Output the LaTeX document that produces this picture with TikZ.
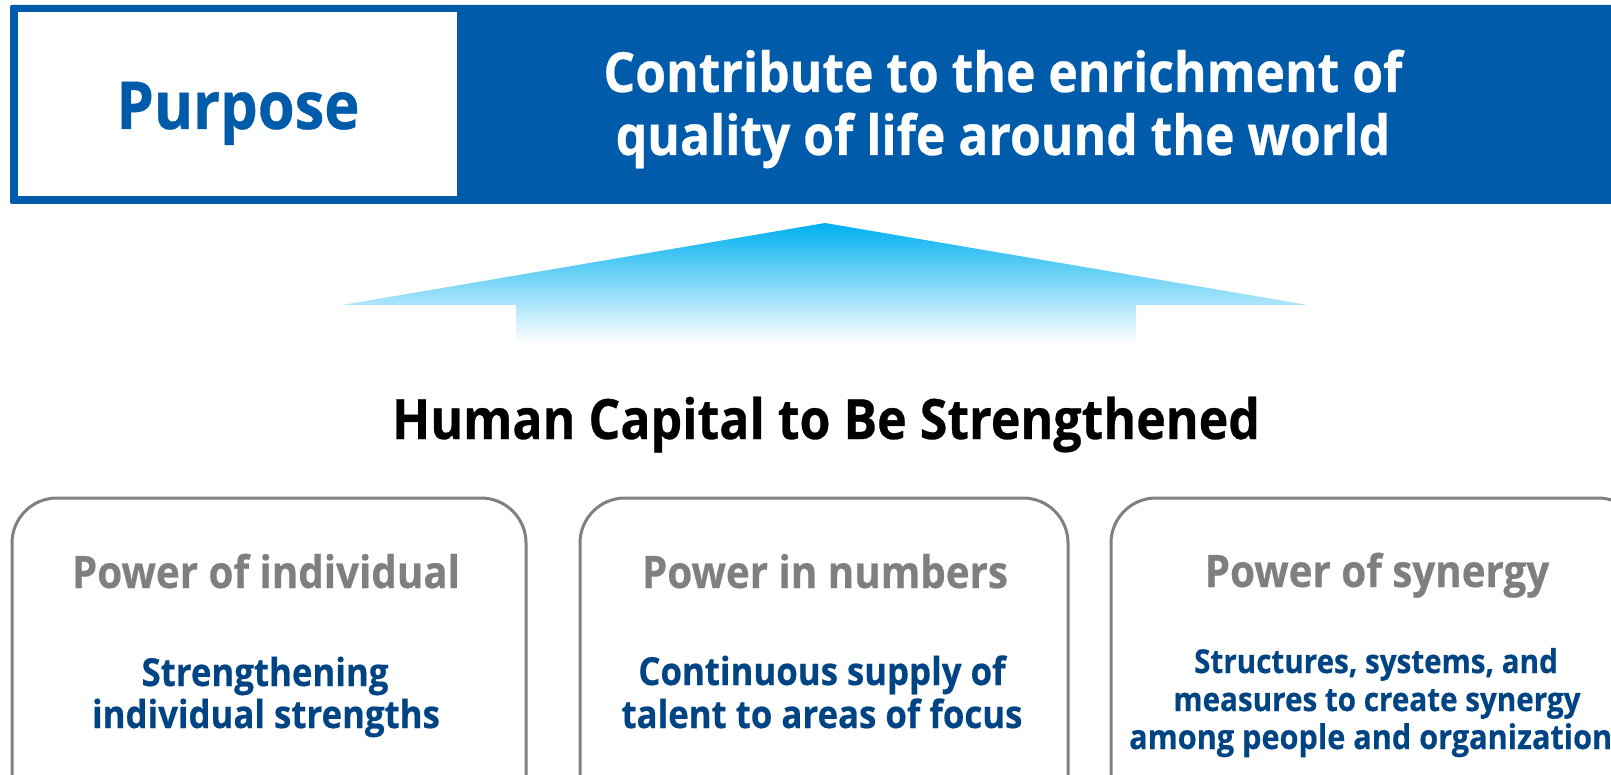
\documentclass[tikz,border=0pt]{standalone}
\usepackage{fontspec}
\setmainfont{Open Sans}[FakeStretch=0.9, FakeBold=0.5]
\usepackage{tikz}

\definecolor{bandblue}{RGB}{0,91,170}
\definecolor{arrowcyan}{RGB}{0,176,240}
\definecolor{headgray}{RGB}{127,127,127}
\definecolor{framegray}{RGB}{128,128,128}
\definecolor{navy}{RGB}{0,68,132}

% font size (pt) that gives a sample text a wanted width
\newdimen\probe
\newcommand\fitsize[3]{%
  \setbox0=\hbox{\normalfont\bfseries\fontsize{10pt}{12pt}\selectfont #3}%
  \global\probe=\wd0
  \pgfmathsetmacro#1{10*#2/\probe}%
  \global\let#1#1}

\AtBeginDocument{%
  \fitsize\szPurpose{243}{Purpose}%
  \fitsize\szBand{799}{Contribute to the enrichment of}%
  \fitsize\szTitle{868}{Human Capital to Be Strengthened}%
  \fitsize\szHead{366}{Power in numbers}%
  \fitsize\szBody{401}{talent to areas of focus}%
  \fitsize\szBodyS{407}{measures to create synergy}%
  \fitsize\szBodyT{483}{among people and organization}%
}

\begin{document}
\begin{tikzpicture}[x=1pt,y=-1pt,
  txt/.style={inner sep=0pt, anchor=base},
  card/.style={draw=framegray, line width=3pt, rounded corners=45pt, fill=white},
  purposefont/.style={font=\bfseries\fontsize{\szPurpose}{\szPurpose}\selectfont},
  bandfont/.style={font=\bfseries\fontsize{\szBand}{\szBand}\selectfont},
  titlefont/.style={font=\bfseries\fontsize{\szTitle}{\szTitle}\selectfont},
  headfont/.style={font=\bfseries\fontsize{\szHead}{\szHead}\selectfont, text=headgray},
  bodyfont/.style={font=\bfseries\fontsize{\szBody}{\szBody}\selectfont, text=navy},
  bodysfont/.style={font=\bfseries\fontsize{\szBodyS}{\szBodyS}\selectfont, text=navy},
  bodytfont/.style={font=\bfseries\fontsize{\szBodyT}{\szBodyT}\selectfont, text=navy}]

\useasboundingbox (0,0) rectangle (1611,775);
\clip (0,0) rectangle (1611,775);

% purpose banner
\fill[bandblue, rounded corners=2pt] (10,5) rectangle (1630,204);
\fill[white] (18,12) rectangle (457,196);
\node[txt, purposefont, text=bandblue] (purpose) at (238,129) {Purpose};
\node[txt, bandfont, text=white] (band1) at (1003,92) {Contribute to the enrichment of};
\node[txt, bandfont, text=white] (band2) at (1003,155) {quality of life around the world};

% upward arrow
\shade[top color=arrowcyan, bottom color=white]
  (825,223) -- (1308,305) -- (1136,305) -- (1136,343)
  -- (516,343) -- (516,305) -- (342,305) -- cycle;

% heading
\node[txt, titlefont, text=black] (title) at (826,439) {Human Capital to Be Strengthened};

% three cards
\draw[card] (12,498) rectangle (526,820);
\draw[card] (580,498) rectangle (1068,820);
\draw[card] (1111,498) rectangle (1643,820);

\node[txt, headfont] (h1) at (266,588) {Power of individual};
\node[txt, bodyfont] (b1a) at (265,686) {Strengthening};
\node[txt, bodyfont] (b1b) at (266,728) {individual strengths};

\node[txt, headfont] (h2) at (825,588) {Power in numbers};
\node[txt, bodyfont] (b2a) at (822,685) {Continuous supply of};
\node[txt, bodyfont] (b2b) at (822,728) {talent to areas of focus};

\node[txt, headfont] (h3) at (1377,587) {Power of synergy};
\node[txt, bodysfont] (b3a) at (1376,673) {Structures, systems, and};
\node[txt, bodysfont] (b3b) at (1377,711) {measures to create synergy};
\node[txt, bodytfont, anchor=base west] (b3c) at (1129,749) {among people and organization};

\end{tikzpicture}
\end{document}
